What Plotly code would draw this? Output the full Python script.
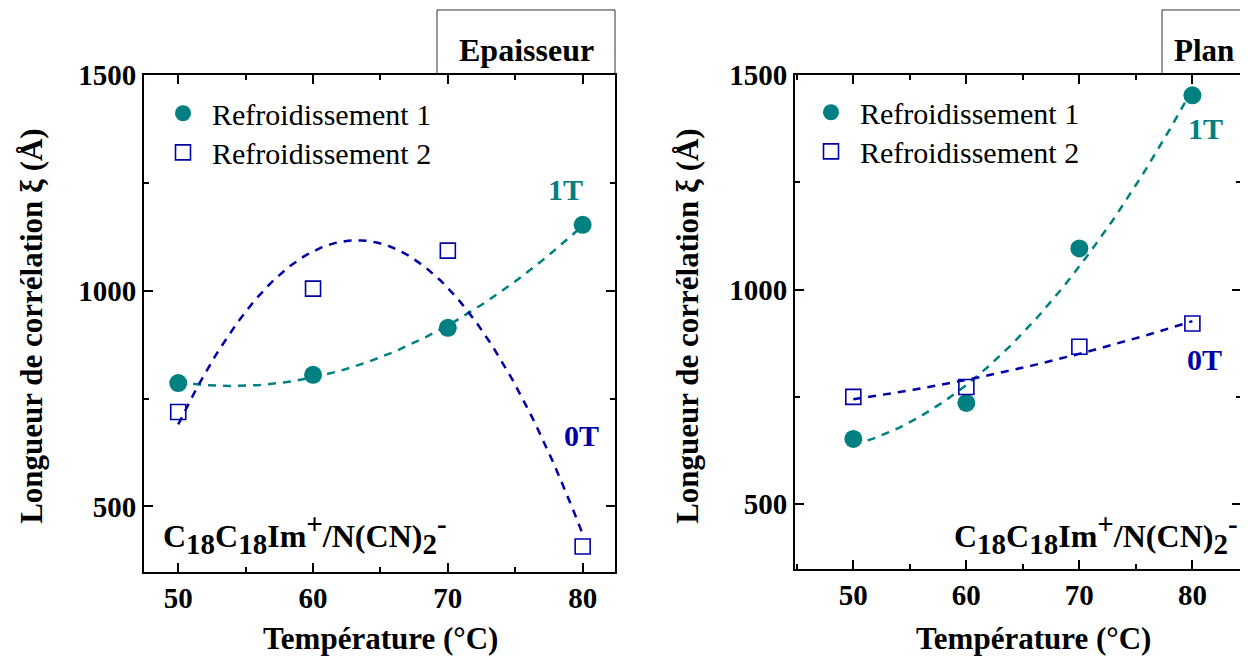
import numpy as np
import plotly.graph_objects as go
from plotly.subplots import make_subplots

# ---------------- data ----------------
temps = [50, 60, 70, 80]
# Left panel: "Epaisseur"
ep_r1 = [786, 805, 914, 1153]   # Refroidissement 1 (1T)
ep_r2 = [719, 1005, 1093, 407]  # Refroidissement 2 (0T)
# Right panel: "Plan"
pl_r1 = [652, 736, 1096, 1453]  # Refroidissement 1 (1T)
pl_r2 = [750, 773, 867, 921]    # Refroidissement 2 (0T)

series_names = ["Refroidissement 1", "Refroidissement 2"]
x_ticks = [50, 60, 70, 80]
y_ticks = [500, 1000, 1500]

W, H = 1248, 659
# measured mapping of figure pixels to the photographed page
OFF_X, OFF_Y, SCALE_Y = 8, 24, 0.973
TEAL = "#008080"
BLUE = "#0000A8"
FONT = "Liberation Serif"


def px(x):
    return (x - OFF_X) / W


def py(y):
    return 1 - ((y - OFF_Y) / SCALE_Y) / H


fig = make_subplots(rows=1, cols=2)


def fit_curve(x, y):
    c = np.polyfit(x, y, 2)
    xs = np.linspace(min(x), max(x), 120)
    return xs, np.polyval(c, xs)


panels = [
    (1, ep_r1, ep_r2, "legend", "legend2"),
    (2, pl_r1, pl_r2, "legend3", "legend4"),
]
for col, r1, r2, leg1, leg2 in panels:
    xs, ys = fit_curve(temps, r1)
    fig.add_trace(go.Scatter(x=xs, y=ys, mode="lines", showlegend=False,
                             line=dict(color=TEAL, width=2.5, dash="8px,7px")), row=1, col=col)
    xs, ys = fit_curve(temps, r2)
    fig.add_trace(go.Scatter(x=xs, y=ys, mode="lines", showlegend=False,
                             line=dict(color=BLUE, width=2.5, dash="8px,7px")), row=1, col=col)
    fig.add_trace(go.Scatter(x=temps, y=r1, mode="markers", name=series_names[0], legend=leg1,
                             marker=dict(symbol="circle", size=18, color=TEAL,
                                         line=dict(width=0))), row=1, col=col)
    fig.add_trace(go.Scatter(x=temps, y=r2, mode="markers", name=series_names[1], legend=leg2,
                             marker=dict(symbol="square-open", size=15, color=BLUE,
                                         line=dict(width=1.6, color=BLUE))), row=1, col=col)

axis_common = dict(
    showline=True, linecolor="black", linewidth=2, mirror="ticks",
    ticks="inside", ticklen=9, tickwidth=2, tickcolor="black",
    showgrid=False, zeroline=False,
    tickfont=dict(family=FONT, size=29, color="black", weight="bold"),
)
x_minor = dict(ticks="inside", ticklen=5, tickwidth=2, tickcolor="black",
               dtick=5, tick0=50, showgrid=False)
y_minor = dict(ticks="inside", ticklen=5, tickwidth=2, tickcolor="black",
               dtick=250, tick0=500, showgrid=False)

fig.update_layout(
    xaxis=dict(axis_common, domain=[px(144), px(615)], range=[47.46, 82.4],
               tickvals=x_ticks, minor=x_minor),
    yaxis=dict(axis_common, domain=[py(570), py(75)], range=[349, 1500],
               tickvals=y_ticks, minor=y_minor),
    xaxis2=dict(axis_common, domain=[px(795), px(1241)], range=[44.84, 84.3],
                tickvals=x_ticks, minor=x_minor),
    yaxis2=dict(axis_common, domain=[py(567), py(75)], range=[350, 1500],
                tickvals=y_ticks, minor=y_minor),
)

legend_common = dict(
    xanchor="left", yanchor="middle", bgcolor="rgba(0,0,0,0)",
    font=dict(family=FONT, size=30, color="black"),
    itemsizing="trace", itemwidth=48,
)
fig.update_layout(
    legend=dict(legend_common, x=px(154), y=py(113)),
    legend2=dict(legend_common, x=px(154), y=py(152)),
    legend3=dict(legend_common, x=px(802), y=py(112)),
    legend4=dict(legend_common, x=px(802), y=py(151)),
)

annotations = []
shapes = []


def ann(x, y, text, size, color="black", xanchor="center", angle=0):
    annotations.append(dict(x=px(x), y=py(y), xref="paper", yref="paper", showarrow=False,
                            xanchor=xanchor, yanchor="middle", textangle=angle, text=text,
                            font=dict(family=FONT, size=size, color=color, weight="bold")))


# axis titles
for cx in (380, 1033):
    ann(cx, 637, "Température (°C)", 31)
for cx in (32, 688):
    ann(cx, 325, "Longueur de corrélation ξ (Å)", 31, angle=-90)

# series labels
for x, y, t, c in [(565, 189, "1T", TEAL), (581, 434, "0T", BLUE),
                   (1205, 128, "1T", TEAL), (1204, 359, "0T", BLUE)]:
    ann(x, y, t, 30, color=c)

# compound label
s = '<span style="font-size:29px">'
formula = ("C<sub>" + s + "18</span></sub>C<sub>" + s + "18</span></sub>Im<sup>" + s +
           "+</span></sup>/N(CN)<sub>" + s + "2</span></sub><sup>" + s + "-</span></sup>")
ann(161, 533, formula, 32, xanchor="left")
ann(952, 533, formula, 32, xanchor="left")

# title boxes
for x0, x1 in [(437, 615), (1162, 1262)]:
    shapes.append(dict(type="rect", xref="paper", yref="paper",
                       x0=px(x0), x1=px(x1), y0=py(74), y1=py(10),
                       line=dict(color="#333333", width=1), fillcolor="white", layer="below"))
ann(526, 50, "Epaisseur", 32)
ann(1204, 50, "Plan", 31)

fig.update_layout(
    width=W, height=H, margin=dict(l=0, r=0, t=0, b=0),
    paper_bgcolor="white", plot_bgcolor="white",
    annotations=annotations, shapes=shapes,
    font=dict(family=FONT, color="black"),
)

fig.write_html("out.html")
